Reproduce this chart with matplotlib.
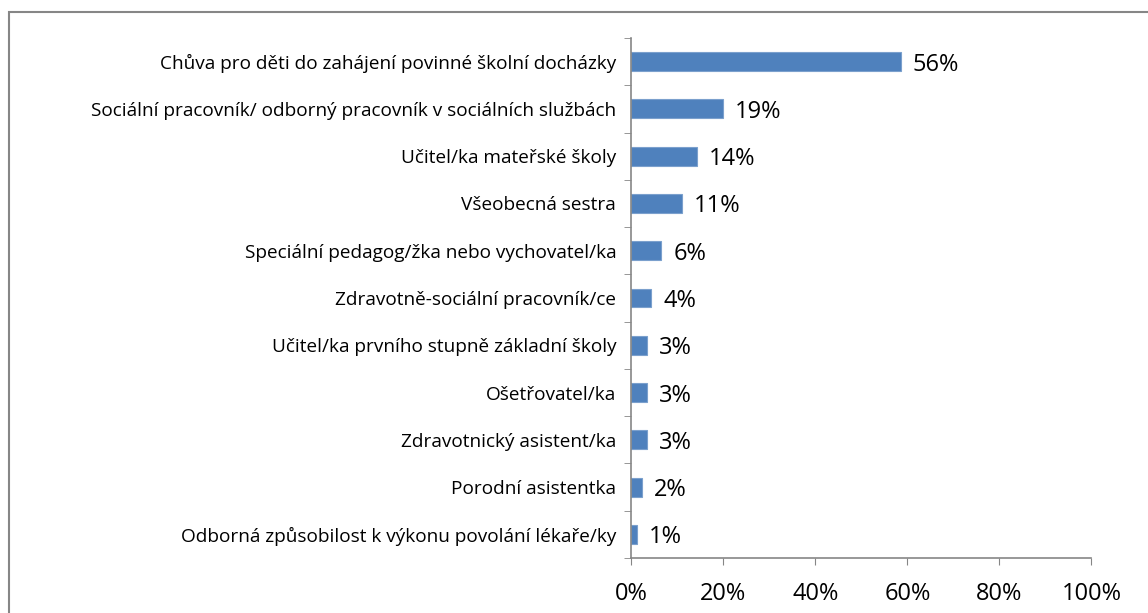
import matplotlib
matplotlib.use("Agg")
import matplotlib.pyplot as plt
from matplotlib.patches import Rectangle
from matplotlib.ticker import FuncFormatter

# data, top to bottom as in the chart
categories = [
    "Chůva pro děti do zahájení povinné školní docházky",
    "Sociální pracovník/ odborný pracovník v sociálních službách",
    "Učitel/ka mateřské školy",
    "Všeobecná sestra",
    "Speciální pedagog/žka nebo vychovatel/ka",
    "Zdravotně-sociální pracovník/ce",
    "Učitel/ka prvního stupně základní školy",
    "Ošetřovatel/ka",
    "Zdravotnický asistent/ka",
    "Porodní asistentka",
    "Odborná způsobilost k výkonu povolání lékaře/ky",
]
# bar lengths as drawn in the picture
bar_values = [58.5, 19.9, 14.3, 11.0, 6.5, 4.3, 3.3, 3.3, 3.3, 2.2, 1.1]
# percentages printed next to the bars
labels = [56, 19, 14, 11, 6, 4, 3, 3, 3, 2, 1]
xticks = [0, 20, 40, 60, 80, 100]

plt.rcParams['font.family'] = ['Open Sans', 'DejaVu Sans']

W, H = 1148, 613
fig = plt.figure(figsize=(W / 100, H / 100), dpi=100)
ax = fig.add_axes([631.5 / W, 1 - 558 / H, (1091.5 - 631.5) / W, (558 - 38) / H])

bar_color = '#4F81BD'
axis_color = '#868686'
n = len(categories)
ypos = list(range(n))
ax.barh(ypos, bar_values, height=0.4, color=bar_color, edgecolor='#7BA0CD', linewidth=0.8)
for y, v, lab in zip(ypos, bar_values, labels):
    ax.annotate("%d%%" % lab, (v, y), xytext=(12, -3), textcoords='offset pixels',
                va='center', ha='left', fontsize=17, color='black')

ax.set_ylim(n - 0.5, -0.5)
ax.set_xlim(0, 100)
ax.set_yticks(ypos)
ax.set_yticklabels(categories, fontsize=13.7)
ax.set_xticks(xticks)
ax.xaxis.set_major_formatter(FuncFormatter(lambda x, p: "%d%%" % x))
ax.tick_params(axis='x', labelsize=17, length=5, color=axis_color, direction='out', pad=12)
ax.tick_params(axis='y', length=0, pad=11)
# category separator ticks
ax.set_yticks([i - 0.5 for i in range(n + 1)], minor=True)
ax.tick_params(axis='y', which='minor', length=5, color=axis_color)

for s in ['top', 'right']:
    ax.spines[s].set_visible(False)
for s in ['left', 'bottom']:
    ax.spines[s].set_color(axis_color)
    ax.spines[s].set_linewidth(1.2)

# outer chart frame
fig.patches.append(Rectangle((8.5 / W, -0.1), 1.2, 1 - 12.5 / H + 0.1, transform=fig.transFigure,
                             fill=False, edgecolor=axis_color, linewidth=1.5))

fig.savefig('out.png', dpi=100)
